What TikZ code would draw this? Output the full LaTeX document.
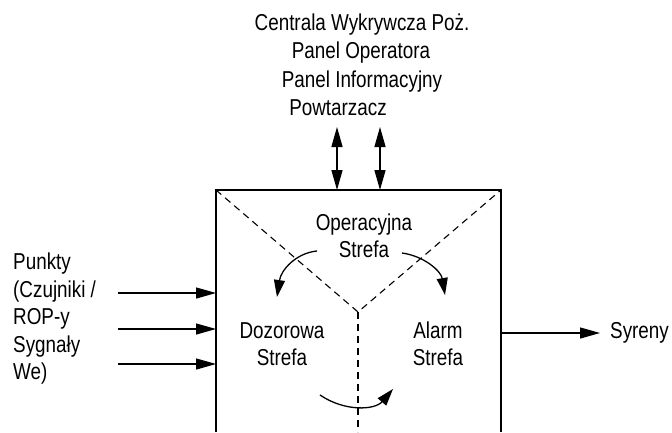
\documentclass[tikz,border=0pt]{standalone}
\usepackage{fontspec}
\setmainfont[FakeStretch=0.82]{Liberation Sans}
\usetikzlibrary{arrows.meta,positioning}

\begin{document}
\begin{tikzpicture}[x=1pt,y=-1pt,
  lbl/.style={font=\fontsize{23}{27.5}\selectfont,inner sep=0pt},
  arr/.style={-{Triangle[length=20pt,width=11pt]},line width=1.3pt},
  dbl/.style={{Triangle[length=20pt,width=11pt]}-{Triangle[length=20pt,width=11pt]},line width=1.3pt},
  turn/.style={-{Triangle[length=17pt,width=11pt]},line width=1.3pt},
  zone/.style={dash pattern=on 7pt off 5pt,line width=1.1pt}]
\useasboundingbox (0,0) rectangle (672,432);
% the box, open at the bottom
\coordinate (nw) at (216,190);
\coordinate (ne) at (501,190);
\coordinate (sw) at (216,432);
\coordinate (se) at (501,432);
\coordinate (mid) at (358,312);
\coordinate (bot) at (358,432);
\draw [line width=1.4pt] (sw) -- (nw) -- (ne) -- (se);
\draw [zone] (nw) -- (mid) -- (ne);
\draw [zone] (mid) -- (bot);
% zones
\node [lbl,align=center] (oper) at (364,236) {Operacyjna\\Strefa};
\node [lbl,align=center] (dozor) at (282,344) {Dozorowa\\Strefa};
\node [lbl,align=center] (alarm) at (438,344) {Alarm\\Strefa};
\draw [turn] (317,251) .. controls (296,253) and (281,270) .. (277,297);
\draw [turn] (402,253) .. controls (424,256) and (441,271) .. (445,295);
\draw [turn] (320,395) .. controls (345,412) and (375,410) .. (393,389);
% devices on top
\node [lbl] (cwp) at (362,25) {Centrala Wykrywcza Poż.};
\node [lbl] (pop) at (361,53) {Panel Operatora};
\node [lbl] (pinf) at (362,82) {Panel Informacyjny};
\node [lbl] (powt) at (338,108) {Powtarzacz};
\foreach\i/\x in {1/337,2/380}
{
  \coordinate (up\i) at (\x,127);
  \draw [dbl] (up\i) -- (up\i |- nw);
}
% inputs
\node [lbl,align=left,anchor=west] (pkt) at (13,319)
  {Punkty\\(Czujniki /\\ROP-y\\Sygnały\\We)};
\foreach\i/\y in {1/293,2/329,3/364}
{
  \coordinate (in\i) at (118,\y);
  \draw [arr] (in\i) -- (in\i -| nw);
}
% output
\node [lbl,anchor=west] (syr) at (610,333) {Syreny};
\coordinate (out) at (ne |- syr.west);
\draw [arr] (out) -- ([xshift=-10pt]syr.west);
\end{tikzpicture}
\end{document}
